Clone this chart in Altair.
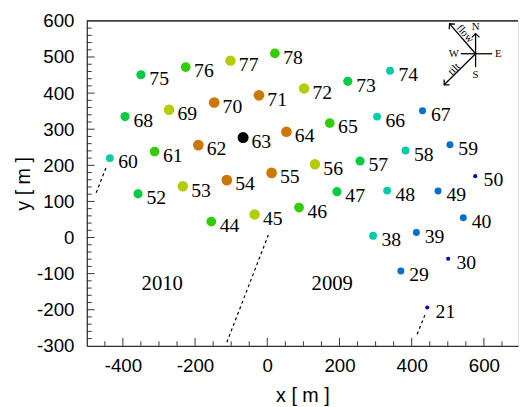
import altair as alt
import pandas as pd

# ---------------- data ----------------
labels = ["75", "76", "77", "78", "68", "69", "70", "71", "72", "73", "74",
          "60", "61", "62", "63", "64", "65", "66", "67",
          "52", "53", "54", "55", "56", "57", "58", "59", "50",
          "44", "45", "46", "47", "48", "49", "40",
          "39", "38", "30", "29", "21"]
xs = [-350, -226, -102, 21, -394, -272, -147, -23, 102, 223, 340,
      -436, -312, -191, -67, 53, 173, 304, 430,
      -358, -234, -112, 12, 132, 257, 383, 506, 576,
      -155, -35, 88, 193, 332, 473, 543,
      413, 293, 501, 370, 443]
ys = [451, 472, 490, 510, 335, 354, 374, 394, 413, 433, 462,
      220, 238, 256, 277, 293, 317, 335, 351,
      121, 142, 159, 179, 203, 212, 241, 257, 170,
      44, 64, 83, 127, 130, 129, 55,
      14, 5, -59, -93, -194]
groups = ["g4", "g3", "g2", "g3", "g4", "g2", "g1", "g1", "g2", "g4", "g5",
          "g5", "g3", "g1", "g0", "g1", "g3", "g5", "g6",
          "g4", "g2", "g1", "g1", "g2", "g4", "g5", "g6", "g7",
          "g3", "g2", "g3", "g4", "g5", "g6", "g6",
          "g6", "g5", "g7", "g6", "g7"]

group_names = ["g0", "g1", "g2", "g3", "g4", "g5", "g6", "g7"]
group_colors = ["#000000", "#cc7700", "#b4cc00", "#33cc00", "#00cc44",
                "#00ccaa", "#0070cc", "#0000cc"]
group_sizes = [125, 118, 112, 98, 86, 64, 50, 17]

# dashed guide segments (data coordinates)
dash_id = ["a", "a", "b", "b", "c", "c"]
dash_x = [-446, -474, 3, -112, 437, 415]
dash_y = [195, 124, 7, -290, -214, -268]

# year annotations
year_text = ["2010", "2009"]
year_x = [-291, 180]
year_y = [-130, -130]

# compass (data coordinates)
comp_x1 = [577, 577, 577, 577, 577, 577]
comp_y1 = [509, 509, 509, 509, 509, 509]
comp_x2 = [577, 577, 536, 623, 505, 490]
comp_y2 = [565, 472, 509, 509, 592, 423]
head_x = [577, 505, 490]
head_y = [565, 592, 423]
head_angle = [0, 319, 225]
comp_text = ["N", "S", "W", "E", "flow", "tilt"]
comp_tx = [577, 577, 517, 640, 547, 518]
comp_ty = [583, 451, 509, 509, 564, 466]
comp_tangle = [0, 0, 0, 0, 49, 315]

x_labels = [-400, -200, 0, 200, 400, 600]
y_labels = [-300, -200, -100, 0, 100, 200, 300, 400, 500, 600]
x_major = [-400, -200, 0, 200, 400, 600]
x_minor = [v for v in range(-450, 700, 50) if v % 200 != 0]
y_major = [-200, -100, 0, 100, 200, 300, 400, 500]
y_minor = [v for v in range(-280, 600, 20) if v % 100 != 0]

# ---------------- layout ----------------
W, H = 438, 330
XDOM = [-500, 694.5]
YDOM = [-300, 600]
SANS = "Liberation Sans"
SERIF = "Liberation Serif"

xs_ = alt.Scale(domain=XDOM, nice=False, zero=False)
ys_ = alt.Scale(domain=YDOM, nice=False, zero=False)

xaxis = alt.Axis(
    values=x_labels, ticks=False, grid=False,
    domainColor="black", domainWidth=1, labelFont=SANS, labelFontSize=19,
    labelColor="black", labelPadding=11, title="x [ m ]", titleFont=SANS,
    titleFontSize=20, titleFontWeight="normal", titleColor="black",
    titlePadding=11, labelFlush=False, labelOverlap=False,
    labelExpr="'' + datum.value")
yaxis = alt.Axis(
    values=y_labels, ticks=False, grid=False,
    domainColor="black", domainWidth=1, labelFont=SANS, labelFontSize=19,
    labelColor="black", labelPadding=13, title="y [ m ]", titleFont=SANS,
    titleFontSize=20, titleFontWeight="normal", titleColor="black",
    titlePadding=3, labelFlush=False, labelOverlap=False,
    labelExpr="'' + datum.value")


def X(f):
    return alt.X(f, scale=xs_, axis=xaxis)


def Y(f):
    return alt.Y(f, scale=ys_, axis=yaxis)


pts = pd.DataFrame({"label": labels, "x": xs, "y": ys, "g": groups})
cmap = dict(zip(group_names, group_colors))
smap = dict(zip(group_names, group_sizes))
pts["c"] = pts["g"].map(cmap)
pts["s"] = pts["g"].map(smap)

points = alt.Chart(pts).mark_circle(opacity=1, strokeWidth=0).encode(
    x=X("x:Q"), y=Y("y:Q"),
    color=alt.Color("c:N", scale=None),
    size=alt.Size("s:Q", scale=None),
)

texts = alt.Chart(pts).mark_text(
    align="left", baseline="alphabetic", dx=8.5, dy=10.5,
    font=SERIF, fontSize=20, color="black"
).encode(x=X("x:Q"), y=Y("y:Q"), text="label:N")

dash_df = pd.DataFrame({"id": dash_id, "x": dash_x, "y": dash_y})
dashes = alt.Chart(dash_df).mark_line(
    color="black", strokeWidth=1.2, strokeDash=[3, 3]
).encode(x=X("x:Q"), y=Y("y:Q"), detail="id:N")

year_df = pd.DataFrame({"t": year_text, "x": year_x, "y": year_y})
years = alt.Chart(year_df).mark_text(
    font=SERIF, fontSize=21, color="black", baseline="middle", align="center"
).encode(x=X("x:Q"), y=Y("y:Q"), text="t:N")

comp_df = pd.DataFrame({"x": comp_x1, "y": comp_y1, "x2": comp_x2, "y2": comp_y2})
comp_lines = alt.Chart(comp_df).mark_rule(color="black", strokeWidth=1.3).encode(
    x=X("x:Q"), y=Y("y:Q"), x2="x2:Q", y2="y2:Q")

head_df = pd.DataFrame({"x": head_x, "y": head_y, "a": head_angle})
heads = alt.Chart(head_df).mark_point(
    shape="M-1,1L0,0L1,1", filled=False, color="black", strokeWidth=1.3,
    size=60, opacity=1
).encode(x=X("x:Q"), y=Y("y:Q"), angle=alt.Angle("a:Q", scale=None))

ctext_df = pd.DataFrame({"t": comp_text, "x": comp_tx, "y": comp_ty, "a": comp_tangle})
ctext = alt.Chart(ctext_df).mark_text(
    font=SERIF, fontSize=11, color="black", baseline="middle", align="center"
).encode(x=X("x:Q"), y=Y("y:Q"), text="t:N", angle=alt.Angle("a:Q", scale=None))

# inward ticks
xmaj = alt.Chart(pd.DataFrame({"x": x_major})).mark_rule(color="#333", strokeWidth=1).encode(
    x=X("x:Q"), y=alt.value(H), y2=alt.value(H - 8))
xmin = alt.Chart(pd.DataFrame({"x": x_minor})).mark_rule(color="#333", strokeWidth=1).encode(
    x=X("x:Q"), y=alt.value(H), y2=alt.value(H - 4.5))
ymaj = alt.Chart(pd.DataFrame({"y": y_major})).mark_rule(color="#333", strokeWidth=1).encode(
    y=Y("y:Q"), x=alt.value(0), x2=alt.value(8))
ymin = alt.Chart(pd.DataFrame({"y": y_minor})).mark_rule(color="#333", strokeWidth=1).encode(
    y=Y("y:Q"), x=alt.value(0), x2=alt.value(5))
top = alt.Chart(pd.DataFrame({"x": [XDOM[0]], "x2": [XDOM[1]], "y": [YDOM[1]]})).mark_rule(
    color="black", strokeWidth=1.2).encode(x=X("x:Q"), x2="x2:Q", y=Y("y:Q"))

chart = alt.layer(
    xmaj, xmin, ymaj, ymin, top, dashes, comp_lines, heads, ctext, years, points, texts
).properties(
    width=W, height=H,
    padding={"left": 80, "top": 10, "right": 1, "bottom": 58},
    autosize=alt.AutoSizeParams(type="none"),
).configure_view(stroke=None).configure(background="white").configure_axis(labelOverlap=False)

chart.save("out.html", embed_options={"renderer": "svg", "actions": False})
